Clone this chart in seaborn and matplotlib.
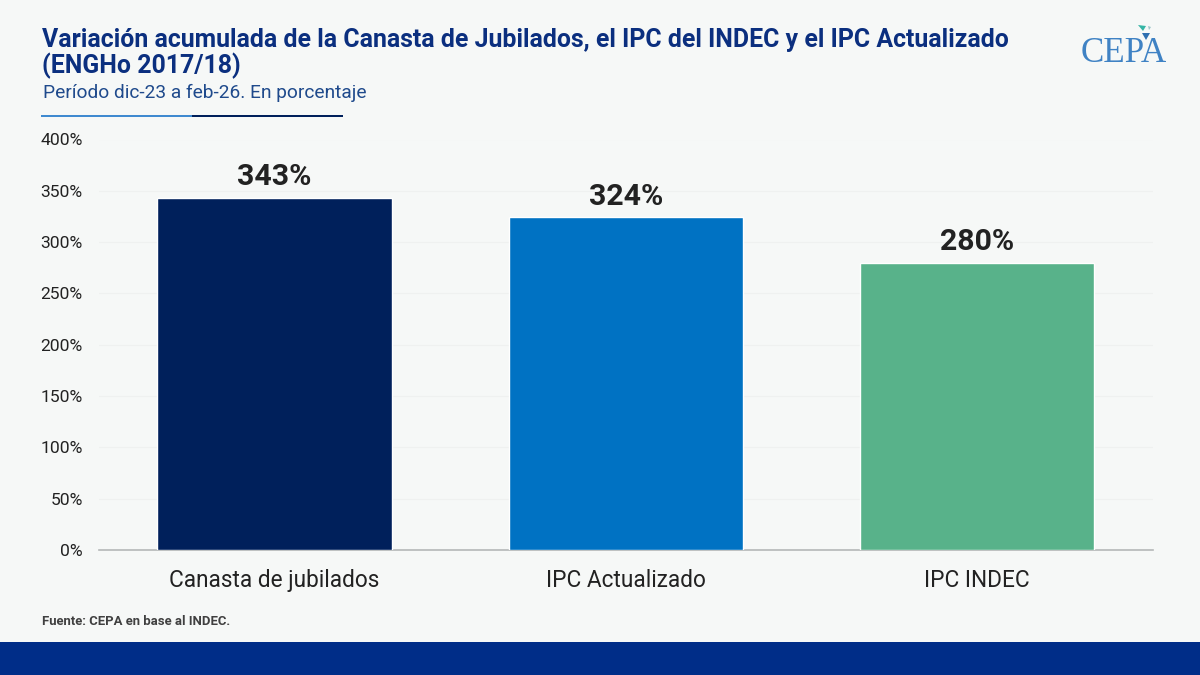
import matplotlib
matplotlib.use("Agg")
import matplotlib.pyplot as plt
from matplotlib.patches import Rectangle, Polygon
import seaborn as sns
import pandas as pd

categories = ["Canasta de jubilados", "IPC Actualizado", "IPC INDEC"]
values = [343, 324, 280]
bar_colors = ["#00205B", "#0072C3", "#58B28A"]
y_ticks = [0, 50, 100, 150, 200, 250, 300, 350, 400]
title = "Variación acumulada de la Canasta de Jubilados, el IPC del INDEC y el IPC Actualizado\n(ENGHo 2017/18)"
subtitle = "Período dic-23 a feb-26. En porcentaje"
source = "Fuente: CEPA en base al INDEC."

BG = "#F6F8F7"
W, H = 1200, 675
sns.set_theme(style="white")
plt.rcParams["font.family"] = ["Roboto", "DejaVu Sans"]

fig = plt.figure(figsize=(W / 100, H / 100), dpi=100, facecolor=BG)
ax = fig.add_axes([98.7 / W, 1 - 550 / H, (1153 - 98.7) / W, 410.5 / H], facecolor=BG)

df = pd.DataFrame({"cat": categories, "val": values})
sns.barplot(data=df, x="cat", y="val", hue="cat", palette=bar_colors, legend=False,
            width=0.667, saturation=1, ax=ax, zorder=3)
ax.set_xlim(-0.5, 2.5)
ax.set_ylim(0, 400)
ax.set_xlabel("")
ax.set_ylabel("")
ax.set_yticks(y_ticks, [f"{v}%" for v in y_ticks])
ax.grid(axis="y", color="#EFF1F0", lw=0.8, zorder=0)
ax.tick_params(axis="y", length=0, pad=11.5, labelsize=12.6, labelcolor="#222222")
ax.tick_params(axis="x", length=0, pad=13.5, labelsize=16.3, labelcolor="#222222")
for s in ["top", "right", "left"]:
    ax.spines[s].set_visible(False)
ax.spines["bottom"].set_color("#B5B8B8")
ax.spines["bottom"].set_linewidth(1.2)

for i, v in enumerate(values):
    ax.annotate(f"{v}%", (i, v), xytext=(0, 5), textcoords="offset points", ha="center",
                va="bottom", fontsize=21.8, fontweight="bold", color="#222222")

def px(x, y):
    return x / W, 1 - y / H

fig.text(*px(42, 73), title, fontsize=17.93, fontweight="bold", color="#0B2F7F",
         va="baseline", ha="left", linespacing=1.0)
fig.text(*px(43, 98), subtitle, fontsize=13.75, color="#1F4A8C", va="baseline", ha="left")
fig.text(*px(42, 625), source, fontsize=9.45, fontweight="bold", color="#404040", va="baseline", ha="left")

fig.add_artist(Rectangle(px(41, 117), 151 / W, 2.2 / H, transform=fig.transFigure, color="#3F8AD0", lw=0))
fig.add_artist(Rectangle(px(192, 117), 151 / W, 2.2 / H, transform=fig.transFigure, color="#00205B", lw=0))
fig.add_artist(Rectangle((0, 0), 1, 33 / H, transform=fig.transFigure, color="#002D88", lw=0))

# Logo
fig.text(*px(1081, 62), "CEPA", family="Liberation Serif", fontsize=25.2, color="#3F82C4",
         va="baseline", ha="left")
fig.add_artist(Polygon([px(1138, 25), px(1146, 26), px(1143, 31)], transform=fig.transFigure, color="#35B5A5", lw=0))
fig.add_artist(Polygon([px(1148, 26), px(1151, 27), px(1149, 30)], transform=fig.transFigure, color="#9CC4C8", lw=0))
fig.add_artist(Polygon([px(1142, 33), px(1150, 33), px(1146, 40)], transform=fig.transFigure, color="#2E6FB0", lw=0))

fig.savefig("out.png", dpi=100, facecolor=BG)
